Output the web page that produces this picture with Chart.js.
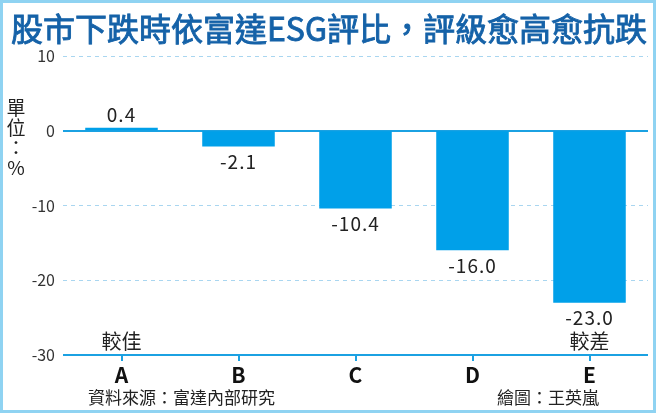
<!DOCTYPE html>
<html>
<head>
<meta charset="utf-8">
<script src="https://cdn.jsdelivr.net/npm/chart.js@4.4.1/dist/chart.umd.min.js"></script>
<style>
  html, body { margin: 0; padding: 0; background: #fff; }
  #wrap { width: 656px; height: 413px; position: relative; }
</style>
</head>
<body>
<div id="wrap"><canvas id="chart" width="656" height="413"></canvas></div>
<script>
const categories = ["A", "B", "C", "D", "E"];
const values = [0.4, -2.1, -10.4, -16.0, -23.0];
const yTicks = [10, 0, -10, -20, -30];
const titleText = "股市下跌時依富達ESG評比，評級愈高愈抗跌";
const yTitle = ["單", "位", "：", "%"];
const sourceText = "資料來源：富達內部研究";
const creditText = "繪圖：王英嵐";

const FONT = "'Noto Sans CJK TC', 'Noto Sans', sans-serif";
const BLUE = "#00a0e9";
const LINE = "#1ba1e2";

// extra drawing: frame, title, axis lines, value labels, notes
const extras = {
  id: "extras",
  beforeDatasetsDraw(chart) {
    const { ctx, chartArea, scales } = chart;
    ctx.save();
    ctx.strokeStyle = LINE;
    ctx.lineWidth = 2;
    [0, -30].forEach((v) => {
      const y = Math.round(scales.y.getPixelForValue(v));
      ctx.beginPath();
      ctx.moveTo(chartArea.left, y);
      ctx.lineTo(chartArea.right, y);
      ctx.stroke();
    });
    ctx.restore();
  },
  afterDraw(chart) {
    const { ctx, scales } = chart;
    const x = scales.x, y = scales.y;
    ctx.save();
    // frame
    ctx.strokeStyle = "#8fd3f2";
    ctx.lineWidth = 3;
    ctx.strokeRect(1.5, 1.5, chart.width - 3, chart.height - 3);

    // title (regular face thickened a little to look medium)
    ctx.fillStyle = "#1562a8";
    ctx.strokeStyle = "#1562a8";
    ctx.lineWidth = 0.9;
    ctx.font = "32px " + FONT;
    ctx.textAlign = "center";
    ctx.textBaseline = "middle";
    ctx.fillText(titleText, 329, 29);
    ctx.strokeText(titleText, 329, 29);

    // value labels
    ctx.fillStyle = "#222";
    ctx.font = "19px " + FONT;
    ctx.letterSpacing = "1px";
    values.forEach((v, i) => {
      const px = x.getPixelForValue(i);
      const py = y.getPixelForValue(v);
      ctx.fillText(v.toFixed(1), px, v >= 0 ? py - 13 : py + 15);
    });
    ctx.letterSpacing = "0px";

    // notes
    ctx.font = "20px " + FONT;
    ctx.fillText("較佳", x.getPixelForValue(0), y.getPixelForValue(-30) - 14);
    ctx.fillText("較差", x.getPixelForValue(4), y.getPixelForValue(-30) - 14);

    // y title
    ctx.font = "19px " + FONT;
    yTitle.forEach((ch, i) => ctx.fillText(ch, 16, 108 + i * 20));

    // footer
    ctx.font = "17px " + FONT;
    ctx.textAlign = "left";
    ctx.fillText(sourceText, 88, 398);
    ctx.textAlign = "right";
    ctx.fillText(creditText, 599, 398);
    ctx.restore();
  }
};

new Chart(document.getElementById("chart"), {
  type: "bar",
  data: {
    labels: categories,
    datasets: [{
      data: values,
      backgroundColor: BLUE,
      borderWidth: 0,
      barPercentage: 0.62,
      categoryPercentage: 1
    }]
  },
  options: {
    responsive: false,
    animation: false,
    layout: { padding: { top: 56, right: 8, left: 0, bottom: 0 } },
    plugins: { legend: { display: false }, tooltip: { enabled: false }, title: { display: false } },
    scales: {
      x: {
        grid: { display: true, drawOnChartArea: false, offset: false, color: LINE, lineWidth: 2, tickLength: 6 },
        border: { display: false },
        ticks: { color: "#111", font: { family: FONT, size: 21, weight: "bold" }, padding: 1 },
        afterFit(scale) { scale.height = 58; }
      },
      y: {
        min: -30,
        max: 10,
        afterBuildTicks(scale) { scale.ticks = yTicks.map((v) => ({ value: v })); },
        grid: {
          drawTicks: false,
          color: (c) => (c.tick && (c.tick.value === 0 || c.tick.value === -30) ? "rgba(0,0,0,0)" : "#a9d6f0"),
          lineWidth: 1
        },
        border: { display: false, dash: [4, 4] },
        ticks: { color: "#333", font: { family: FONT, size: 16 }, padding: 8 },
        afterFit(scale) { scale.width = 63; }
      }
    }
  },
  plugins: [extras]
});
</script>
</body>
</html>
